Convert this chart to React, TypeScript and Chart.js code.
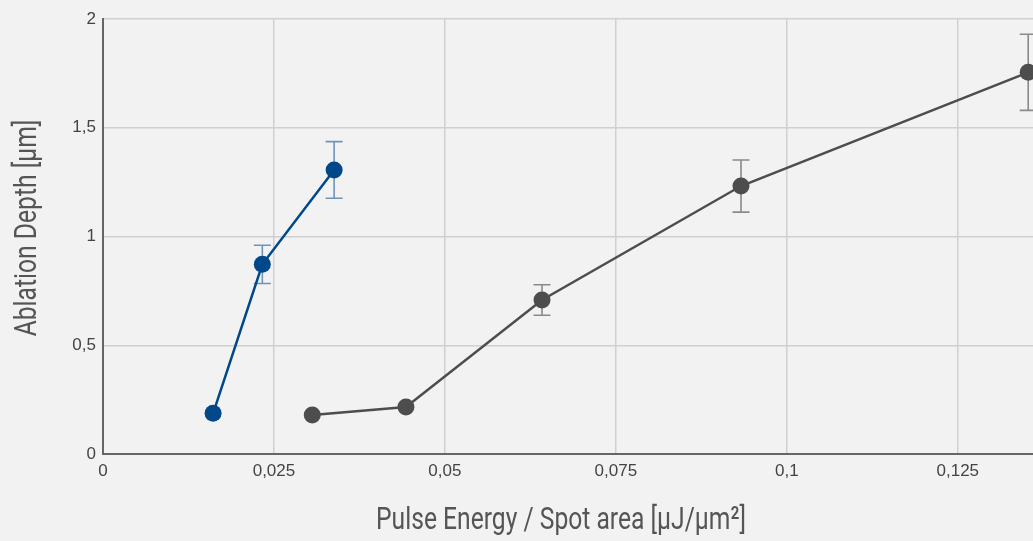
import React, { useEffect, useRef } from "react";
import { Chart, registerables } from "chart.js";

Chart.register(...registerables);

const blueX = [0.0161, 0.0233, 0.0338];
const blueY = [0.187, 0.872, 1.306];
const blueErr = [0, 0.088, 0.13];

const grayX = [0.0306, 0.0443, 0.0642, 0.0933, 0.1353];
const grayY = [0.179, 0.216, 0.708, 1.232, 1.755];
const grayErr = [0, 0, 0.07, 0.12, 0.175];

const xTicks = [0, 0.025, 0.05, 0.075, 0.1, 0.125];
const yTickStep = 0.5;

const xTitle = "Pulse Energy / Spot area [µJ/µm²]";
const yTitle = "Ablation Depth [µm]";

const titleFont = "Roboto, 'Liberation Sans', sans-serif";
const tickFont = "'Liberation Sans', Arial, sans-serif";

const fmt = (v: number) => {
  const r = Math.round(v * 1000) / 1000;
  return String(r).replace(".", ",");
};

const errorBarPlugin = {
  id: "errorBars",
  beforeDatasetsDraw(chart: any) {
    const ctx = chart.ctx;
    const xs = chart.scales.x;
    const ys = chart.scales.y;
    chart.data.datasets.forEach((ds: any) => {
      const errs: number[] = ds.errors || [];
      ctx.save();
      ctx.strokeStyle = ds.errorColor;
      ctx.lineWidth = 1.6;
      ds.data.forEach((p: any, i: number) => {
        const e = errs[i];
        if (!e) return;
        const px = xs.getPixelForValue(p.x);
        const top = ys.getPixelForValue(p.y + e);
        const bot = ys.getPixelForValue(p.y - e);
        const cap = 8.5;
        ctx.beginPath();
        ctx.moveTo(px, top);
        ctx.lineTo(px, bot);
        ctx.moveTo(px - cap, top);
        ctx.lineTo(px + cap, top);
        ctx.moveTo(px - cap, bot);
        ctx.lineTo(px + cap, bot);
        ctx.stroke();
      });
      ctx.restore();
    });
  },
};

const condensedTitlePlugin = {
  id: "condensedTitles",
  afterDraw(chart: any) {
    const ctx = chart.ctx;
    const squeeze = 0.77;
    ctx.save();
    ctx.fillStyle = "#555";
    ctx.font = `400 32px ${titleFont}`;
    ctx.textAlign = "center";
    ctx.textBaseline = "alphabetic";
    ctx.save();
    ctx.translate(561, 529);
    ctx.scale(squeeze, 1);
    ctx.fillText(xTitle, 0, 0);
    ctx.restore();
    ctx.save();
    ctx.translate(36, 228);
    ctx.rotate(-Math.PI / 2);
    ctx.scale(squeeze, 1);
    ctx.fillText(yTitle, 0, 0);
    ctx.restore();
    ctx.restore();
  },
};

export default function App() {
  const ref = useRef<HTMLCanvasElement | null>(null);
  useEffect(() => {
    if (!ref.current) return;
    const chart = new Chart(ref.current, {
      type: "scatter",
      data: {
        datasets: [
          {
            label: "blue",
            data: blueX.map((x, i) => ({ x, y: blueY[i] })),
            showLine: true,
            borderColor: "#00488a",
            backgroundColor: "#00488a",
            borderWidth: 2.5,
            pointRadius: 8.5,
            pointBorderWidth: 0,
            clip: false,
            errors: blueErr,
            errorColor: "#6f93ba",
          } as any,
          {
            label: "gray",
            data: grayX.map((x, i) => ({ x, y: grayY[i] })),
            showLine: true,
            borderColor: "#4d4d4d",
            backgroundColor: "#4d4d4d",
            borderWidth: 2.5,
            pointRadius: 8.5,
            pointBorderWidth: 0,
            clip: false,
            errors: grayErr,
            errorColor: "#8a8a8a",
          } as any,
        ],
      },
      options: {
        animation: false,
        responsive: true,
        maintainAspectRatio: false,
        layout: { autoPadding: false, padding: { left: 0, right: 0, top: 19, bottom: 0 } },
        plugins: { legend: { display: false }, tooltip: { enabled: false } },
        scales: {
          x: {
            type: "linear",
            min: 0,
            max: 0.136,
            afterBuildTicks: (axis: any) => {
              axis.ticks = xTicks.map((v) => ({ value: v }));
            },
            afterFit: (axis: any) => {
              axis.height = 87;
              axis.paddingRight = 0;
              axis.paddingLeft = 0;
            },
            ticks: {
              padding: 7,
              color: "#444",
              font: { family: tickFont, size: 17 },
              callback: (v: any) => fmt(Number(v)),
              maxRotation: 0,
              autoSkip: false,
            },
            grid: { color: "#d0d0d0", lineWidth: 1.5, drawTicks: false },
            border: { color: "#666", width: 2 },
          },
          y: {
            type: "linear",
            min: 0,
            max: 2,
            afterFit: (axis: any) => {
              axis.width = 103;
            },
            ticks: {
              stepSize: yTickStep,
              padding: 7,
              color: "#444",
              font: { family: tickFont, size: 17 },
              callback: (v: any) => fmt(Number(v)),
            },
            grid: { color: "#d0d0d0", lineWidth: 1.5, drawTicks: false },
            border: { color: "#666", width: 2 },
          },
        },
      },
      plugins: [errorBarPlugin, condensedTitlePlugin],
    } as any);
    return () => chart.destroy();
  }, []);
  return (
    <div
      style={{
        position: "fixed",
        left: 0,
        top: 0,
        width: 1033,
        height: 541,
        background: "#f2f2f2",
      }}
    >
      <canvas ref={ref} />
    </div>
  );
}
